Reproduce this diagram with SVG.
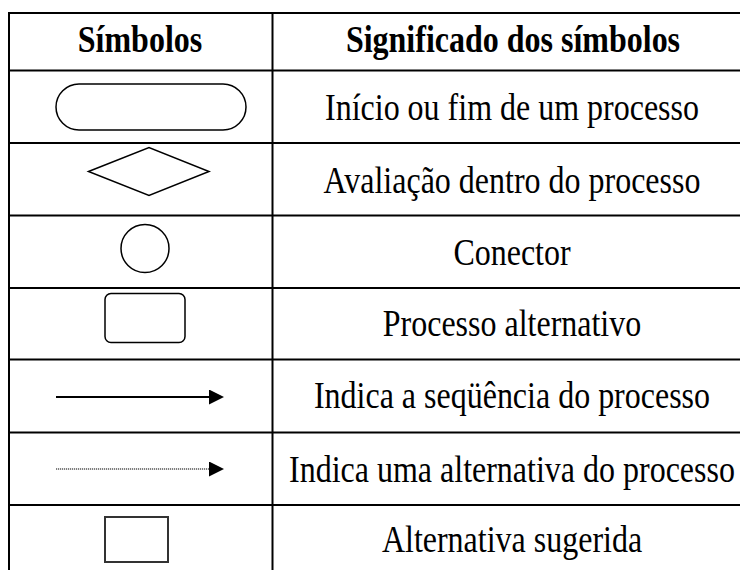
<svg xmlns="http://www.w3.org/2000/svg" width="740" height="570" viewBox="0 0 740 570">
<style>
.grid{stroke:#000;stroke-width:2;fill:none}
.shape{stroke:#000;stroke-width:1.5;fill:#fff}
.hd{font-family:"Liberation Serif","Times New Roman",serif;font-weight:bold;font-size:32px;fill:#000;text-anchor:middle}
.tx{font-family:"Liberation Serif","Times New Roman",serif;font-size:32px;fill:#000;text-anchor:middle}
.ln{stroke:#000;stroke-width:2;fill:none}
.dot{stroke:#000;stroke-width:1.2;fill:none;stroke-dasharray:1.2 0.8}
</style>
<defs>
<marker id="ah" viewBox="0 0 15 15" refX="0" refY="7.5" markerWidth="15" markerHeight="15" markerUnits="userSpaceOnUse" orient="auto">
<path d="M0,0 L15,7.5 L0,15 Z" fill="#000"/>
</marker>
</defs>
<rect width="740" height="570" fill="#fff"/>
<g id="table" class="grid">
<line x1="8" y1="13" x2="740" y2="13"/>
<line x1="8" y1="70.5" x2="740" y2="70.5"/>
<line x1="8" y1="143" x2="740" y2="143"/>
<line x1="8" y1="215.5" x2="740" y2="215.5"/>
<line x1="8" y1="288" x2="740" y2="288"/>
<line x1="8" y1="359.5" x2="740" y2="359.5"/>
<line x1="8" y1="432.5" x2="740" y2="432.5"/>
<line x1="8" y1="505" x2="740" y2="505"/>
<line x1="9" y1="12" x2="9" y2="570"/>
<line x1="272.5" y1="12" x2="272.5" y2="570"/>
</g>
<g id="header">
<text class="hd" transform="translate(140,52) scale(1,1.2)">Símbolos</text>
<text class="hd" transform="translate(513,52) scale(1,1.2)">Significado dos símbolos</text>
</g>
<g id="terminal">
<rect class="shape" x="56" y="84" width="190" height="46" rx="23"/>
<text class="tx" transform="translate(512,120) scale(1,1.2)">Início ou fim de um processo</text>
</g>
<g id="decision">
<polygon class="shape" points="88.5,171.5 149,147.5 209,171.5 149,195.5"/>
<text class="tx" transform="translate(512,193) scale(1,1.2)">Avaliação dentro do processo</text>
</g>
<g id="connector">
<circle class="shape" cx="145" cy="248.5" r="24"/>
<text class="tx" transform="translate(512,265) scale(1,1.2)">Conector</text>
</g>
<g id="alt-process">
<rect class="shape" x="105" y="293.5" width="80" height="49" rx="6"/>
<text class="tx" transform="translate(512,336) scale(1,1.2)">Processo alternativo</text>
</g>
<g id="connectors">
<line class="ln" x1="56" y1="397" x2="209" y2="397" marker-end="url(#ah)"/>
<line class="dot" x1="56" y1="469" x2="209" y2="469" marker-end="url(#ah)"/>
</g>
<g id="sequence-label">
<text class="tx" transform="translate(512,408) scale(1,1.2)">Indica a seqüência do processo</text>
</g>
<g id="alternative-label">
<text class="tx" transform="translate(512,482) scale(1,1.2)">Indica uma alternativa do processo</text>
</g>
<g id="suggested">
<rect x="105" y="517" width="63" height="45" fill="#fff" stroke="#333" stroke-width="2"/>
<text class="tx" transform="translate(512,552) scale(1,1.2)">Alternativa sugerida</text>
</g>
</svg>
